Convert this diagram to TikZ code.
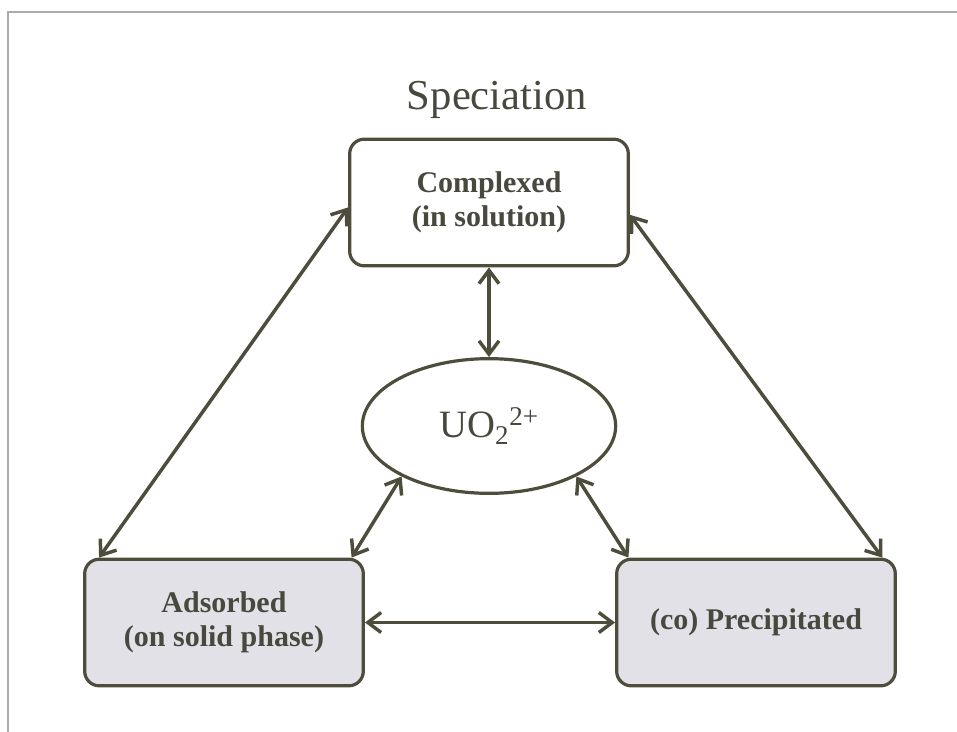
\documentclass[tikz,border=0pt]{standalone}
\usepackage{fontspec}
\setmainfont{Liberation Serif}
\usepackage{tikz}
\usetikzlibrary{arrows.meta,shapes.geometric}
\definecolor{olivedark}{RGB}{78,76,58}
\definecolor{textgrey}{RGB}{72,72,62}
\definecolor{lavgrey}{RGB}{226,225,232}
\definecolor{framegrey}{RGB}{170,172,170}

\begin{document}
\begin{tikzpicture}[
  x=0.75pt,y=-0.75pt,
  phase/.style={draw=olivedark,line width=2.4pt,rounded corners=11pt,fill=white,align=center,minimum width=209pt,minimum height=95pt,text=textgrey,font=\fontsize{22.5}{25.5}\selectfont\bfseries},
  sorbed/.style={phase,fill=lavgrey},
  ion/.style={ellipse,draw=olivedark,line width=2.4pt,fill=white,minimum width=190pt,minimum height=101pt,text=textgrey,font=\fontsize{29}{33}\selectfont},
  arr/.style={{Straight Barb[length=10pt,width=15pt]}-{Straight Barb[length=10pt,width=15pt]},line width=2.6pt,draw=olivedark}
]
\useasboundingbox (0,0) rectangle (957,732);
\draw[framegrey,line width=1pt] (8,732) -- (8,12) -- (957,12);
\node[text=textgrey,font=\fontsize{32}{36}\selectfont] (title) at (497,100) {Speciation};
\node[phase] (complexed) at (489,202.5) {Complexed\\(in solution)};
\node[ion] (uo) at (489,426) {UO\textsubscript{2}\textsuperscript{2+}};
\node[sorbed] (adsorbed) at (224,622.5) {Adsorbed\\(on solid phase)};
\node[sorbed] (precip) at (756,622.5) {(co) Precipitated};
\draw[arr] (complexed.south) -- (uo.north);
\draw[arr] (complexed.182) -- ([xshift=12pt]adsorbed.north west);
\draw[arr] (complexed.-5) -- ([xshift=-11pt]precip.north east);
\draw[arr] (uo.210) -- ([xshift=-10pt]adsorbed.north east);
\draw[arr] (uo.-30) -- ([xshift=10pt]precip.north west);
\draw[arr] (adsorbed.east) -- (precip.west);
\end{tikzpicture}
\end{document}
